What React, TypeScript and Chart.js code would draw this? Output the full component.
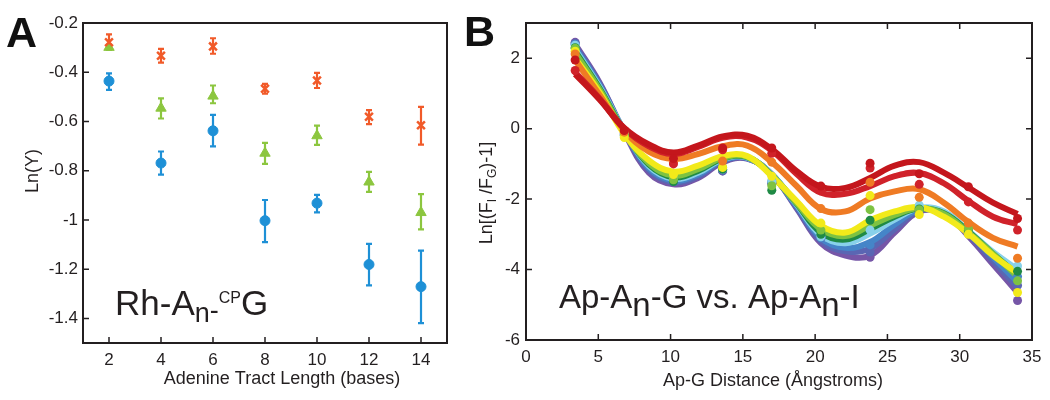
import React, { useEffect, useRef } from "react";
import { Chart, registerables } from "chart.js";
Chart.register(...registerables);

const FONT = "'Liberation Sans', Arial, Helvetica, sans-serif";
const INK = "#231f20";

// ---------- Panel A data ----------
const A_X = [2, 4, 6, 8, 10, 12, 14];
const A_X_TICKS = [2, 4, 6, 8, 10, 12, 14];
const A_Y_TICKS = [-1.4, -1.2, -1, -0.8, -0.6, -0.4, -0.2];
const A_ORANGE = [-0.278, -0.333, -0.295, -0.467, -0.434, -0.581, -0.615];
const A_ORANGE_LO = [-0.309, -0.361, -0.325, -0.487, -0.464, -0.611, -0.694];
const A_ORANGE_HI = [-0.246, -0.305, -0.262, -0.447, -0.403, -0.554, -0.541];
const A_GREEN = [-0.299, -0.546, -0.497, -0.729, -0.658, -0.846, -0.97];
const A_GREEN_LO = [-0.309, -0.588, -0.526, -0.772, -0.695, -0.886, -1.038];
const A_GREEN_HI = [-0.289, -0.506, -0.454, -0.687, -0.617, -0.805, -0.895];
const A_BLUE = [-0.436, -0.769, -0.638, -1.003, -0.932, -1.181, -1.271];
const A_BLUE_LO = [-0.472, -0.816, -0.701, -1.09, -0.969, -1.266, -1.419];
const A_BLUE_HI = [-0.405, -0.722, -0.573, -0.919, -0.898, -1.097, -1.125];

// ---------- Panel B data ----------
const B_X_TICKS = [0, 5, 10, 15, 20, 25, 30, 35];
const B_Y_TICKS = [-6, -4, -2, 0, 2];
const B_DOT_X = [3.4, 6.8, 10.2, 13.6, 17.0, 20.4, 23.8, 27.2, 30.6, 34.0];
const B_CURVE_X = [3.4, 5.1, 6.8, 8.5, 10.2, 11.9, 13.6, 15.3, 17.0, 18.7, 20.4, 22.1, 23.8, 25.5, 27.2, 28.9, 30.6, 32.3, 34.0];

const B_PURPLE_CURVE = [2.4, 1.3, -0.1, -1.25, -1.58, -1.4, -0.95, -0.85, -1.3, -2.25, -3.25, -3.6, -3.6, -2.95, -2.35, -2.4, -3.05, -3.85, -4.65];
const B_INDIGO_CURVE = [2.35, 1.26, -0.08, -1.18, -1.52, -1.35, -0.92, -0.84, -1.3, -2.22, -3.18, -3.48, -3.4, -2.85, -2.33, -2.4, -3.0, -3.75, -4.5];
const B_BLUE_CURVE = [2.3, 1.22, -0.07, -1.12, -1.47, -1.3, -0.9, -0.83, -1.3, -2.18, -3.1, -3.38, -3.22, -2.72, -2.3, -2.38, -2.95, -3.65, -4.35];
const B_CYAN_CURVE = [2.25, 1.18, -0.06, -1.06, -1.42, -1.25, -0.87, -0.82, -1.3, -2.14, -3.02, -3.25, -2.98, -2.58, -2.25, -2.35, -2.9, -3.5, -4.0];
const B_DKGREEN_CURVE = [2.2, 1.14, -0.08, -1.02, -1.38, -1.2, -0.85, -0.81, -1.32, -2.12, -2.95, -3.15, -2.85, -2.5, -2.27, -2.4, -2.92, -3.55, -4.15];
const B_GREEN_CURVE = [2.15, 1.1, -0.1, -0.98, -1.33, -1.15, -0.83, -0.8, -1.33, -2.1, -2.85, -3.05, -2.75, -2.45, -2.25, -2.42, -2.95, -3.55, -4.2];
const B_YELLOW_CURVE = [2.0, 1.02, -0.15, -0.9, -1.22, -1.05, -0.78, -0.78, -1.35, -2.05, -2.75, -2.95, -2.6, -2.35, -2.23, -2.5, -2.98, -3.6, -4.1];
const B_ORANGE_CURVE = [1.95, 0.95, -0.05, -0.65, -0.86, -0.72, -0.5, -0.48, -0.95, -1.62, -2.28, -2.35, -1.98, -1.78, -1.72, -2.1, -2.65, -3.1, -3.35];
const B_REDL_CURVE = [1.6, 0.85, 0.0, -0.5, -0.72, -0.52, -0.26, -0.25, -0.62, -1.28, -1.82, -1.85, -1.63, -1.35, -1.26, -1.55, -2.05, -2.5, -2.72];
const B_REDU_CURVE = [1.55, 0.82, 0.02, -0.45, -0.68, -0.48, -0.22, -0.2, -0.58, -1.2, -1.65, -1.68, -1.4, -1.05, -0.95, -1.25, -1.67, -2.1, -2.42];

const B_PURPLE_DOTS = [2.45, -0.15, -1.5, -1.2, -1.55, -3.1, -3.65, -2.35, -2.95, -4.88];
const B_INDIGO_DOTS = [2.42, -0.15, -1.5, -1.2, -1.55, -3.1, -3.5, -2.3, -2.95, -4.45];
const B_BLUE_DOTS = [2.4, -0.15, -1.5, -1.15, -1.5, -3.1, -3.3, -2.25, -2.9, -4.2];
const B_CYAN_DOTS = [2.37, -0.15, -1.45, -1.15, -1.5, -3.07, -2.88, -2.17, -2.9, -3.9];
const B_DKGREEN_DOTS = [2.3, -0.2, -1.5, -1.15, -1.75, -3.0, -2.6, -2.28, -2.9, -4.05];
const B_GREEN_DOTS = [2.28, -0.2, -1.45, -1.1, -1.62, -2.88, -2.3, -2.3, -2.84, -4.32];
const B_YELLOW_DOTS = [2.2, -0.25, -1.3, -1.1, -1.35, -2.68, -1.9, -2.44, -3.0, -4.65];
const B_ORANGE_DOTS = [2.12, -0.1, -0.95, -0.92, -0.95, -2.27, -1.52, -1.95, -2.68, -3.68];
const B_REDL_DOTS = [1.65, -0.05, -1.0, -0.6, -0.7, -1.75, -1.12, -1.58, -2.08, -2.88];
const B_REDU_DOTS = [1.95, -0.05, -0.85, -0.55, -0.55, -1.63, -0.98, -1.28, -1.65, -2.55];

const B_SERIES = [
  { color: "#7656a7", curve: B_PURPLE_CURVE, dots: B_PURPLE_DOTS },
  { color: "#5a66b3", curve: B_INDIGO_CURVE, dots: B_INDIGO_DOTS },
  { color: "#4585c8", curve: B_BLUE_CURVE, dots: B_BLUE_DOTS },
  { color: "#88d1ea", curve: B_CYAN_CURVE, dots: B_CYAN_DOTS },
  { color: "#1f8a45", curve: B_DKGREEN_CURVE, dots: B_DKGREEN_DOTS },
  { color: "#7dc242", curve: B_GREEN_CURVE, dots: B_GREEN_DOTS },
  { color: "#f2ea1a", curve: B_YELLOW_CURVE, dots: B_YELLOW_DOTS },
  { color: "#ef7b24", curve: B_ORANGE_CURVE, dots: B_ORANGE_DOTS },
  { color: "#d0222a", curve: B_REDL_CURVE, dots: B_REDL_DOTS },
  { color: "#c4161c", curve: B_REDU_CURVE, dots: B_REDU_DOTS },
];

const A_ORANGE_COLOR = "#f15a29";
const A_GREEN_COLOR = "#8cc63f";
const A_BLUE_COLOR = "#1e90d6";

type Run = { t: string; size: number; dy?: number; bold?: boolean };

function runsWidth(ctx: CanvasRenderingContext2D, runs: Run[]) {
  let w = 0;
  for (const r of runs) {
    ctx.font = `${r.bold ? "bold " : ""}${r.size}px ${FONT}`;
    w += ctx.measureText(r.t).width;
  }
  return w;
}

function drawRuns(ctx: CanvasRenderingContext2D, x: number, y: number, runs: Run[]) {
  for (const r of runs) {
    ctx.font = `${r.bold ? "bold " : ""}${r.size}px ${FONT}`;
    ctx.fillText(r.t, x, y + (r.dy || 0));
    x += ctx.measureText(r.t).width;
  }
}

function framePlugin(allSides: boolean) {
  return {
    id: "frameTicks",
    afterDraw(chart: any) {
      const { ctx, chartArea: ca, scales } = chart;
      ctx.save();
      ctx.strokeStyle = INK;
      ctx.lineWidth = 1.5;
      const L = 6;
      ctx.beginPath();
      scales.x.ticks.forEach((t: any) => {
        const px = scales.x.getPixelForValue(t.value);
        ctx.moveTo(px, ca.bottom);
        ctx.lineTo(px, ca.bottom - L);
        if (allSides) {
          ctx.moveTo(px, ca.top);
          ctx.lineTo(px, ca.top + L);
        }
      });
      scales.y.ticks.forEach((t: any) => {
        const py = scales.y.getPixelForValue(t.value);
        ctx.moveTo(ca.left, py);
        ctx.lineTo(ca.left + L, py);
        if (allSides) {
          ctx.moveTo(ca.right, py);
          ctx.lineTo(ca.right - L, py);
        }
      });
      ctx.stroke();
      ctx.lineWidth = 2;
      ctx.strokeRect(ca.left, ca.top, ca.right - ca.left, ca.bottom - ca.top);
      ctx.restore();
    },
  };
}

const errorBarPlugin = {
  id: "errorBars",
  beforeDatasetsDraw(chart: any) {
    const { ctx, scales } = chart;
    chart.data.datasets.forEach((ds: any) => {
      if (!ds.errLo) return;
      ctx.save();
      ctx.strokeStyle = ds.borderColor;
      ctx.lineWidth = 2.2;
      ds.data.forEach((p: any, i: number) => {
        const px = scales.x.getPixelForValue(p.x);
        const y1 = scales.y.getPixelForValue(ds.errLo[i]);
        const y2 = scales.y.getPixelForValue(ds.errHi[i]);
        ctx.beginPath();
        ctx.moveTo(px, y1);
        ctx.lineTo(px, y2);
        ctx.moveTo(px - 3, y1);
        ctx.lineTo(px + 3, y1);
        ctx.moveTo(px - 3, y2);
        ctx.lineTo(px + 3, y2);
        ctx.stroke();
      });
      ctx.restore();
    });
  },
};

const textAPlugin = {
  id: "textA",
  afterDraw(chart: any) {
    const ctx: CanvasRenderingContext2D = chart.ctx;
    ctx.save();
    ctx.fillStyle = "#111";
    ctx.textBaseline = "alphabetic";
    ctx.textAlign = "left";
    drawRuns(ctx, 6, 47, [{ t: "A", size: 43, bold: true }]);
    ctx.fillStyle = INK;
    drawRuns(ctx, 115, 315, [
      { t: "Rh-A", size: 35 },
      { t: "n", size: 27, dy: 7 },
      { t: "-", size: 27, dy: 4 },
      { t: "CP", size: 16, dy: -12 },
      { t: "G", size: 35 },
    ]);
    // x title
    const xt: Run[] = [{ t: "Adenine Tract Length (bases)", size: 18 }];
    const w = runsWidth(ctx, xt);
    drawRuns(ctx, 282 - w / 2, 384, xt);
    // y title
    ctx.save();
    ctx.translate(38, 171);
    ctx.rotate(-Math.PI / 2);
    const yt: Run[] = [{ t: "Ln(Y)", size: 18 }];
    const wy = runsWidth(ctx, yt);
    drawRuns(ctx, -wy / 2, 0, yt);
    ctx.restore();
    ctx.restore();
  },
};

const textBPlugin = {
  id: "textB",
  afterDraw(chart: any) {
    const ctx: CanvasRenderingContext2D = chart.ctx;
    ctx.save();
    ctx.fillStyle = "#111";
    ctx.textBaseline = "alphabetic";
    ctx.textAlign = "left";
    drawRuns(ctx, 4, 46, [{ t: "B", size: 43, bold: true }]);
    ctx.fillStyle = INK;
    drawRuns(ctx, 99, 308, [
      { t: "Ap-A", size: 33 },
      { t: "n", size: 33, dy: 8 },
      { t: "-G vs. Ap-A", size: 33 },
      { t: "n", size: 33, dy: 8 },
      { t: "-I", size: 33 },
    ]);
    const xt: Run[] = [{ t: "Ap-G Distance (Ångstroms)", size: 18 }];
    const w = runsWidth(ctx, xt);
    drawRuns(ctx, 313 - w / 2, 386, xt);
    ctx.save();
    ctx.translate(32, 193);
    ctx.rotate(-Math.PI / 2);
    const yt: Run[] = [
      { t: "Ln[(F", size: 18 },
      { t: "I", size: 12, dy: 4 },
      { t: " /F", size: 18 },
      { t: "G", size: 12, dy: 4 },
      { t: ")-1]", size: 18 },
    ];
    const wy = runsWidth(ctx, yt);
    drawRuns(ctx, -wy / 2, 0, yt);
    ctx.restore();
    ctx.restore();
  },
};

function tickFont() {
  return { family: FONT, size: 17 };
}

function configA(): any {
  const mk = (vals: number[]) => A_X.map((x, i) => ({ x, y: vals[i] }));
  return {
    type: "scatter",
    data: {
      datasets: [
        {
          data: mk(A_ORANGE),
          errLo: A_ORANGE_LO,
          errHi: A_ORANGE_HI,
          pointStyle: "crossRot",
          pointRadius: 5.5,
          borderColor: A_ORANGE_COLOR,
          backgroundColor: A_ORANGE_COLOR,
          borderWidth: 2.5,
        },
        {
          data: mk(A_GREEN),
          errLo: A_GREEN_LO,
          errHi: A_GREEN_HI,
          pointStyle: "triangle",
          pointRadius: 6,
          borderColor: A_GREEN_COLOR,
          backgroundColor: A_GREEN_COLOR,
          borderWidth: 1,
        },
        {
          data: mk(A_BLUE),
          errLo: A_BLUE_LO,
          errHi: A_BLUE_HI,
          pointStyle: "circle",
          pointRadius: 5,
          borderColor: A_BLUE_COLOR,
          backgroundColor: A_BLUE_COLOR,
          borderWidth: 1,
        },
      ],
    },
    options: {
      responsive: false,
      animation: false,
      devicePixelRatio: 1,
      layout: { padding: { left: 0, top: 23, right: 13, bottom: 0 } },
      plugins: { legend: { display: false }, tooltip: { enabled: false } },
      scales: {
        x: {
          type: "linear",
          min: 1,
          max: 15,
          afterBuildTicks: (s: any) => {
            s.ticks = A_X_TICKS.map((v) => ({ value: v }));
          },
          afterFit: (s: any) => {
            s.height = 57;
            s.paddingLeft = 0;
            s.paddingRight = 0;
          },
          grid: { display: false, drawTicks: false },
          border: { display: false },
          ticks: { font: tickFont(), color: INK, padding: 7, maxRotation: 0, autoSkip: false },
        },
        y: {
          type: "linear",
          min: -1.5,
          max: -0.2,
          afterBuildTicks: (s: any) => {
            s.ticks = A_Y_TICKS.map((v) => ({ value: v }));
          },
          afterFit: (s: any) => {
            s.width = 83;
            s.paddingTop = 0;
            s.paddingBottom = 0;
          },
          grid: { display: false, drawTicks: false },
          border: { display: false },
          ticks: {
            font: tickFont(),
            color: INK,
            padding: 5,
            autoSkip: false,
            callback: (v: number) => String(Math.round(v * 10) / 10),
          },
        },
      },
    },
    plugins: [errorBarPlugin, framePlugin(false), textAPlugin],
  };
}

function configB(): any {
  const datasets: any[] = [];
  B_SERIES.forEach((s, i) => {
    datasets.push({
      data: B_CURVE_X.map((x, j) => ({ x, y: s.curve[j] })),
      showLine: true,
      tension: 0.4,
      borderColor: s.color,
      backgroundColor: s.color,
      borderWidth: 6,
      pointRadius: 0,
      fill: false,
      order: 100 - i,
    });
    datasets.push({
      data: B_DOT_X.map((x, j) => ({ x, y: s.dots[j] })),
      showLine: false,
      pointRadius: 4.5,
      pointStyle: "circle",
      borderColor: s.color,
      backgroundColor: s.color,
      borderWidth: 0,
      order: 50 - i,
    });
  });
  return {
    type: "scatter",
    data: { datasets },
    options: {
      responsive: false,
      animation: false,
      devicePixelRatio: 1,
      layout: { padding: { left: 0, top: 23, right: 18, bottom: 0 } },
      plugins: { legend: { display: false }, tooltip: { enabled: false } },
      scales: {
        x: {
          type: "linear",
          min: 0,
          max: 35,
          afterBuildTicks: (s: any) => {
            s.ticks = B_X_TICKS.map((v) => ({ value: v }));
          },
          afterFit: (s: any) => {
            s.height = 60;
            s.paddingLeft = 0;
            s.paddingRight = 0;
          },
          grid: { display: false, drawTicks: false },
          border: { display: false },
          ticks: { font: tickFont(), color: INK, padding: 7, maxRotation: 0, autoSkip: false },
        },
        y: {
          type: "linear",
          min: -6,
          max: 3,
          afterBuildTicks: (s: any) => {
            s.ticks = B_Y_TICKS.map((v) => ({ value: v }));
          },
          afterFit: (s: any) => {
            s.width = 66;
            s.paddingTop = 0;
            s.paddingBottom = 0;
          },
          grid: { display: false, drawTicks: false },
          border: { display: false },
          ticks: { font: tickFont(), color: INK, padding: 6, autoSkip: false },
        },
      },
    },
    plugins: [framePlugin(true), textBPlugin],
  };
}

export default function App() {
  const refA = useRef<HTMLCanvasElement>(null);
  const refB = useRef<HTMLCanvasElement>(null);
  useEffect(() => {
    const a = new Chart(refA.current as HTMLCanvasElement, configA());
    const b = new Chart(refB.current as HTMLCanvasElement, configB());
    return () => {
      a.destroy();
      b.destroy();
    };
  }, []);
  return (
    <div style={{ position: "fixed", left: 0, top: 0, width: 1050, height: 400, background: "#fff" }}>
      <canvas ref={refA} width={460} height={400} style={{ position: "absolute", left: 0, top: 0, width: 460, height: 400 }} />
      <canvas ref={refB} width={590} height={400} style={{ position: "absolute", left: 460, top: 0, width: 590, height: 400 }} />
    </div>
  );
}
